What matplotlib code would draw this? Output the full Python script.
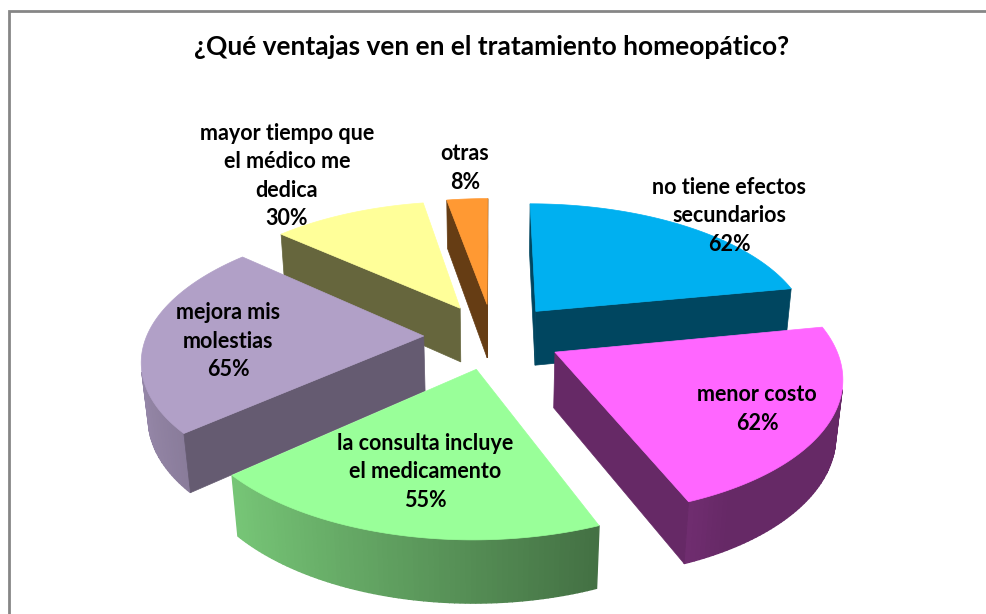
import numpy as np
import matplotlib.pyplot as plt
from matplotlib.patches import Polygon
from matplotlib.colors import to_rgb

# data
categories = ['no tiene efectos\nsecundarios', 'menor costo',
              'la consulta incluye\nel medicamento', 'mejora mis\nmolestias',
              'mayor tiempo que\nel médico me\ndedica', 'otras']
values = [62, 62, 55, 65, 30, 8]
colors = ['#00B0F0', '#FF66FF', '#99FF99', '#B1A0C7', '#FFFF99', '#FF9933']
title = '¿Qué ventajas ven en el tratamiento homeopático?'

# label centres in pixels (layout only)
label_pos = [(729, 216), (757, 409), (425, 472), (228, 341), (287, 176), (465, 168)]

W, H = 986, 614
fig = plt.figure(figsize=(W / 100, H / 100), dpi=100)
ax = fig.add_axes([0, 0, 1, 1])
ax.set_xlim(0, W)
ax.set_ylim(H, 0)
ax.axis('off')

# simple perspective camera for the 3d pie
elev = np.radians(28.4)
dist = 5.56
scale = 277
cx, cy = 493, 336
depth = 0.23
explode = 0.25
cam = np.array([0.0, -dist * np.cos(elev), dist * np.sin(elev)])


def proj(x, y, z):
    yc = z * np.cos(elev) + y * np.sin(elev)
    zc = y * np.cos(elev) - z * np.sin(elev) + dist
    return cx + scale * x * dist / zc, cy - scale * yc * dist / zc


def shade(c, f):
    return tuple(min(1, v * f) for v in to_rgb(c))


def facing(normal, point):
    return np.dot(normal, cam - np.asarray(point)) > 0


total = sum(values)
edges = 90 - np.cumsum([0] + values) / total * 360

slices = []
for i, v in enumerate(values):
    a1, a2 = edges[i], edges[i + 1]
    mid = np.radians((a1 + a2) / 2)
    ox, oy = explode * np.cos(mid), explode * np.sin(mid)
    ts = np.radians(np.linspace(a1, a2, 80))
    arc_x = ox + np.cos(ts)
    arc_y = oy + np.sin(ts)
    faces = []

    # outer curved wall, split in thin strips
    for j in range(len(ts) - 1):
        tm = (ts[j] + ts[j + 1]) / 2
        n = np.array([np.cos(tm), np.sin(tm), 0])
        p = (ox + np.cos(tm), oy + np.sin(tm), -depth / 2)
        if not facing(n, p):
            continue
        f = np.clip(0.55 - 0.3 * np.cos(tm), 0.4, 0.9)
        quad = [proj(arc_x[j], arc_y[j], 0), proj(arc_x[j + 1], arc_y[j + 1], 0),
                proj(arc_x[j + 1], arc_y[j + 1], -depth), proj(arc_x[j], arc_y[j], -depth)]
        faces.append((quad, shade(colors[i], f), 1.0))

    # the two flat cut walls
    for a, sgn, k in ((a1, 1, 0), (a2, -1, -1)):
        ar = np.radians(a)
        n = np.array([-sgn * np.sin(ar), sgn * np.cos(ar), 0])
        p = (ox + 0.5 * np.cos(ar), oy + 0.5 * np.sin(ar), -depth / 2)
        if not facing(n, p):
            continue
        f = 0.57 if i == 3 else 0.4
        quad = [proj(ox, oy, 0), proj(arc_x[k], arc_y[k], 0),
                proj(arc_x[k], arc_y[k], -depth), proj(ox, oy, -depth)]
        faces.append((quad, shade(colors[i], f), 0.5))

    top = [proj(ox, oy, 0)] + [proj(x, y, 0) for x, y in zip(arc_x, arc_y)]
    faces.append((top, to_rgb(colors[i]), 0.5))

    # distance of slice centre from the camera, for drawing order
    c3 = np.array([ox + 0.6 * np.cos(mid), oy + 0.6 * np.sin(mid), 0])
    slices.append((np.linalg.norm(cam - c3), faces))

for _, faces in sorted(slices, key=lambda s: -s[0]):
    for poly, col, lw in faces:
        ax.add_patch(Polygon(poly, closed=True, facecolor=col, edgecolor=col, lw=lw))

font = ['Lato', 'DejaVu Sans']
for lab, v, (x, y) in zip(categories, values, label_pos):
    ax.text(x, y, f'{lab}\n{v}%', ha='center', va='center', family=font,
            weight='bold', fontsize=15.5, linespacing=1.45, color='black')

ax.text(492, 47, title, ha='center', va='center', family=font,
        weight='bold', fontsize=19, color='black')

# chart frame (cut off at right and bottom in the reference)
ax.plot([9, 9, W + 5], [H + 5, 11, 11], color='#868686', lw=2, solid_joinstyle='miter')

fig.savefig('out.png', dpi=100)
